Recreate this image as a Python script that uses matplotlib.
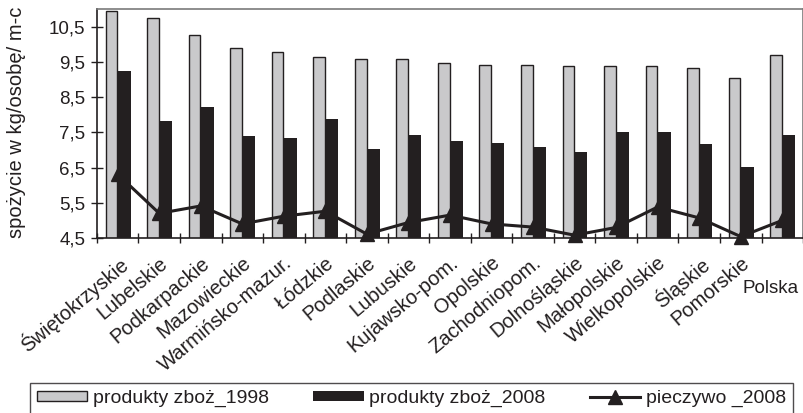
import matplotlib
matplotlib.use('Agg')
import matplotlib.pyplot as plt
import numpy as np

plt.rcParams['font.family'] = ['Liberation Sans', 'DejaVu Sans']

# dane
regiony = ['Świętokrzyskie', 'Lubelskie', 'Podkarpackie', 'Mazowieckie',
           'Warmińsko-mazur.', 'Łódzkie', 'Podlaskie', 'Lubuskie',
           'Kujawsko-pom.', 'Opolskie', 'Zachodniopom.', 'Dolnośląskie',
           'Małopolskie', 'Wielkopolskie', 'Śląskie', 'Pomorskie', 'Polska']
zboza_1998 = [10.95, 10.74, 10.25, 9.90, 9.77, 9.63, 9.59, 9.59,
              9.46, 9.42, 9.42, 9.38, 9.38, 9.38, 9.33, 9.03, 9.69]
zboza_2008 = [9.25, 7.81, 8.21, 7.39, 7.34, 7.87, 7.03, 7.42,
              7.25, 7.21, 7.08, 6.94, 7.51, 7.51, 7.16, 6.51, 7.42]
pieczywo_2008 = [6.31, 5.20, 5.41, 4.90, 5.12, 5.26, 4.61, 4.94,
                 5.15, 4.90, 4.81, 4.58, 4.80, 5.38, 5.07, 4.54, 5.00]
y_ticks = [4.5, 5.5, 6.5, 7.5, 8.5, 9.5, 10.5]

ciemny = '#231f20'
szary = '#c9c9cb'

fig = plt.figure(figsize=(8.04, 4.13), dpi=100)
ax = fig.add_axes([0.1206, 0.4237, 0.8782, 0.5545])

x = np.arange(len(regiony))
b1 = ax.bar(x - 0.15, zboza_1998, width=0.28, color=szary,
            edgecolor=ciemny, linewidth=1.0, label='produkty zboż_1998', zorder=2)
b2 = ax.bar(x + 0.15, zboza_2008, width=0.32, color=ciemny, edgecolor='none',
            label='produkty zboż_2008', zorder=3)
l1, = ax.plot(x, pieczywo_2008, color=ciemny, linewidth=2.2, marker='^',
              markersize=10, clip_on=False, label='pieczywo _2008', zorder=4)

ax.set_xlim(-0.5, len(regiony) - 0.5)
ax.set_ylim(4.5, 11.0)
ax.set_yticks(y_ticks)
ax.set_yticklabels([str(v).replace('.', ',') for v in y_ticks])
ax.tick_params(axis='y', direction='inout', length=9, width=1.0,
               labelsize=13.5, pad=4, colors=ciemny)

# podzialki na granicach kategorii, podpisy na srodkach
ax.set_xticks(np.arange(-0.5, len(regiony)), minor=False)
ax.set_xticklabels([])
ax.tick_params(axis='x', which='major', direction='inout', length=7, width=1.0, colors=ciemny)
ax.set_xticks(x, minor=True)
ax.set_xticklabels(regiony[:-1] + [''], minor=True, rotation=40,
                   ha='right', va='top', rotation_mode='anchor')
ax.tick_params(axis='x', which='minor', length=0, pad=11, labelsize=14.5, labelcolor=ciemny)

ax.annotate(regiony[-1], xy=(len(regiony) - 0.6, 0),
            xycoords=('data', 'axes fraction'), xytext=(0, -50),
            textcoords='offset pixels', ha='right', va='center',
            fontsize=13.5, color=ciemny, annotation_clip=False)

for s in ['left', 'bottom']:
    ax.spines[s].set_color(ciemny)
    ax.spines[s].set_linewidth(1.2)
for s in ['top', 'right']:
    ax.spines[s].set_color('#7a7a7a')
    ax.spines[s].set_linewidth(1.2)

fig.text(0.021, 0.705, 'spożycie w kg/osobę/ m-c', rotation=90,
         ha='center', va='center', fontsize=14.5, color=ciemny)

leg = fig.legend(handles=[b1, b2, l1], loc='upper left',
                 bbox_to_anchor=(0.0373, 0.0, 0.949, 0.0726),
                 ncol=3, mode='expand', fontsize=14, frameon=True, fancybox=False,
                 handlelength=2.6, handleheight=0.45, borderaxespad=0,
                 borderpad=0.35, handletextpad=0.3)
leg.get_frame().set_edgecolor(ciemny)
leg.get_frame().set_linewidth(1.0)
for t in leg.get_texts():
    t.set_color(ciemny)

plt.savefig('out.png', dpi=100)
